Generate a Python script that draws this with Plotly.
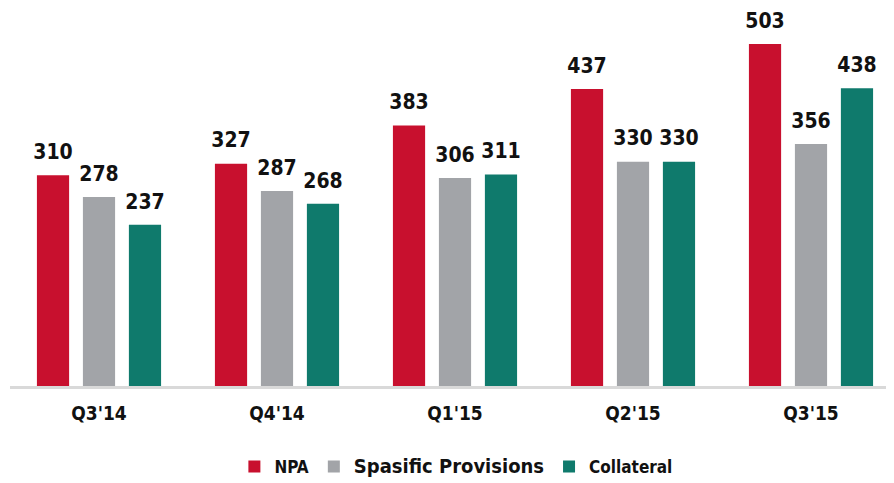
import plotly.graph_objects as go

categories = ["Q3'14", "Q4'14", "Q1'15", "Q2'15", "Q3'15"]
npa = [310, 327, 383, 437, 503]
provisions = [278, 287, 306, 330, 356]
collateral = [237, 268, 311, 330, 438]

FONT = "DejaVu Sans Condensed, Arial Narrow, Arial"
series = [
    ("NPA", npa, "#C8102E", 17),
    ("Spasific Provisions", provisions, "#A2A4A8", 20),
    ("Collateral", collateral, "#0F7A6C", 17),
]

fig = go.Figure()
for i, (name, vals, color, fs) in enumerate(series):
    fig.add_trace(go.Bar(
        x=categories, y=vals,
        name=f"<span style='font-size:{fs}px'><b>{name}</b></span>",
        marker=dict(color=color, line=dict(width=0)),
        offsetgroup=str(i),
    ))
for i, (name, vals, color, fs) in enumerate(series):
    fig.add_trace(go.Scatter(
        x=categories, y=vals, mode="markers+text",
        marker=dict(size=16, opacity=0),
        text=[f"<b>{v}</b>" for v in vals], textposition="top center",
        textfont=dict(size=21, color="#111111", family=FONT),
        offsetgroup=str(i), showlegend=False, hoverinfo="skip", cliponaxis=False,
    ))

fig.update_layout(
    width=894, height=483,
    margin=dict(l=2, r=2, t=0, b=105),
    paper_bgcolor="white", plot_bgcolor="white",
    barmode="group", bargap=0.225, bargroupgap=0.3,
    scattermode="group", scattergap=0.225,
    font=dict(family=FONT, color="#111111"),
    showlegend=True,
    legend=dict(orientation="h", x=0.501, xanchor="center", y=-0.214, yanchor="middle",
                font=dict(size=17, color="#111111", family=FONT), traceorder="normal"),
    xaxis=dict(showline=True, linecolor="#D9D9D9", linewidth=3, ticks="",
               tickfont=dict(size=19, color="#111111", family=FONT),
               ticklabelstandoff=8, showgrid=False,
               tickprefix="<b>", ticksuffix="</b>"),
    yaxis=dict(range=[0, 556], visible=False, showgrid=False),
)
fig.write_html("out.html")
